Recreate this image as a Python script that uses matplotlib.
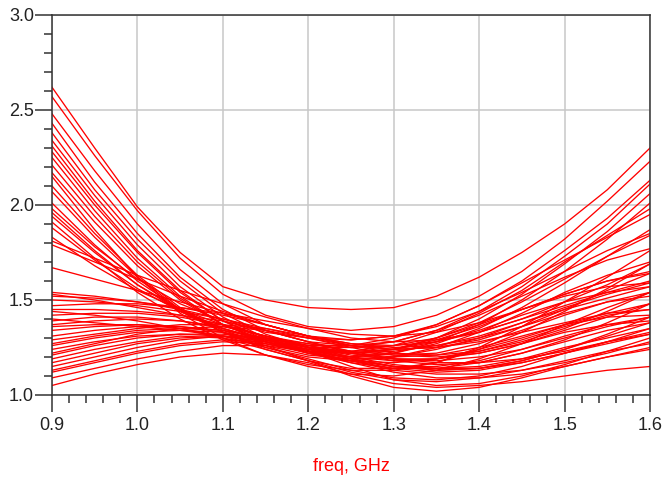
import matplotlib
matplotlib.use("Agg")
import matplotlib.pyplot as plt
from matplotlib.ticker import MultipleLocator

# frequency points (GHz)
freq = [0.9, 0.95, 1.0, 1.05, 1.1, 1.15, 1.2, 1.25, 1.3, 1.35, 1.4, 1.45, 1.5, 1.55, 1.6]

# steep curves (high at low freq, U shape)
high_curves = [
    [2.62, 2.30, 1.99, 1.75, 1.57, 1.50, 1.46, 1.45, 1.46, 1.52, 1.62, 1.75, 1.90, 2.08, 2.30],
    [2.57, 2.26, 1.97, 1.72, 1.53, 1.42, 1.36, 1.34, 1.36, 1.42, 1.52, 1.65, 1.82, 2.02, 2.23],
    [2.48, 2.18, 1.90, 1.66, 1.48, 1.37, 1.31, 1.29, 1.31, 1.37, 1.47, 1.60, 1.76, 1.93, 2.13],
    [2.43, 2.12, 1.85, 1.62, 1.45, 1.34, 1.28, 1.26, 1.28, 1.34, 1.44, 1.57, 1.73, 1.90, 2.11],
    [2.38, 2.08, 1.82, 1.60, 1.43, 1.32, 1.25, 1.22, 1.24, 1.30, 1.40, 1.53, 1.69, 1.86, 2.06],
    [2.34, 2.05, 1.79, 1.57, 1.41, 1.30, 1.23, 1.20, 1.22, 1.28, 1.37, 1.50, 1.65, 1.82, 2.01],
    [2.31, 2.02, 1.76, 1.55, 1.39, 1.29, 1.24, 1.23, 1.26, 1.33, 1.43, 1.55, 1.70, 1.84, 1.98],
    [2.28, 2.00, 1.75, 1.54, 1.39, 1.30, 1.26, 1.26, 1.30, 1.37, 1.47, 1.59, 1.71, 1.83, 1.95],
    [2.25, 1.97, 1.72, 1.52, 1.37, 1.28, 1.22, 1.20, 1.22, 1.27, 1.35, 1.46, 1.59, 1.73, 1.87],
    [2.21, 1.94, 1.70, 1.51, 1.37, 1.28, 1.23, 1.22, 1.24, 1.30, 1.38, 1.49, 1.61, 1.73, 1.84],
    [2.17, 1.91, 1.68, 1.50, 1.37, 1.29, 1.25, 1.25, 1.28, 1.34, 1.42, 1.52, 1.62, 1.71, 1.77],
    [2.15, 1.87, 1.62, 1.43, 1.30, 1.21, 1.16, 1.13, 1.13, 1.17, 1.25, 1.36, 1.49, 1.62, 1.76],
    [2.07, 1.83, 1.62, 1.45, 1.33, 1.25, 1.20, 1.18, 1.20, 1.25, 1.33, 1.43, 1.54, 1.63, 1.70],
    [2.01, 1.79, 1.60, 1.45, 1.34, 1.27, 1.23, 1.22, 1.24, 1.29, 1.36, 1.45, 1.53, 1.60, 1.64],
    [1.96, 1.76, 1.58, 1.44, 1.33, 1.26, 1.21, 1.19, 1.20, 1.24, 1.30, 1.38, 1.46, 1.53, 1.59],
    [1.94, 1.75, 1.58, 1.45, 1.35, 1.28, 1.24, 1.22, 1.23, 1.26, 1.31, 1.38, 1.45, 1.51, 1.57],
    [1.91, 1.72, 1.54, 1.40, 1.29, 1.21, 1.15, 1.11, 1.10, 1.13, 1.19, 1.27, 1.37, 1.46, 1.54],
    [1.88, 1.71, 1.56, 1.44, 1.35, 1.29, 1.25, 1.23, 1.24, 1.28, 1.34, 1.42, 1.49, 1.54, 1.57],
    [1.83, 1.68, 1.55, 1.45, 1.37, 1.31, 1.27, 1.25, 1.26, 1.30, 1.37, 1.45, 1.52, 1.57, 1.59],
    [1.98, 1.78, 1.61, 1.48, 1.39, 1.33, 1.30, 1.29, 1.31, 1.36, 1.44, 1.54, 1.65, 1.76, 1.85],
    [2.10, 1.85, 1.63, 1.46, 1.33, 1.24, 1.18, 1.14, 1.14, 1.17, 1.24, 1.33, 1.44, 1.56, 1.69],
]

# medium curves (slow decline)
mid_curves = [
    [1.81, 1.72, 1.63, 1.55, 1.48, 1.41, 1.35, 1.30, 1.28, 1.29, 1.33, 1.40, 1.49, 1.58, 1.69],
    [1.79, 1.70, 1.61, 1.52, 1.44, 1.37, 1.31, 1.26, 1.24, 1.25, 1.29, 1.36, 1.45, 1.55, 1.64],
    [1.67, 1.61, 1.55, 1.49, 1.43, 1.37, 1.31, 1.26, 1.22, 1.21, 1.23, 1.28, 1.35, 1.44, 1.54],
    [1.54, 1.52, 1.49, 1.45, 1.40, 1.34, 1.28, 1.22, 1.18, 1.16, 1.17, 1.22, 1.29, 1.38, 1.48],
    [1.53, 1.50, 1.46, 1.42, 1.37, 1.31, 1.25, 1.19, 1.15, 1.13, 1.14, 1.18, 1.24, 1.32, 1.41],
    [1.50, 1.49, 1.47, 1.44, 1.40, 1.35, 1.30, 1.26, 1.24, 1.25, 1.28, 1.33, 1.38, 1.43, 1.45],
    [1.52, 1.51, 1.49, 1.46, 1.43, 1.39, 1.35, 1.32, 1.31, 1.33, 1.38, 1.45, 1.53, 1.60, 1.65],
    [1.47, 1.48, 1.48, 1.46, 1.42, 1.37, 1.31, 1.27, 1.26, 1.28, 1.33, 1.40, 1.47, 1.54, 1.60],
    [1.44, 1.42, 1.39, 1.35, 1.30, 1.24, 1.18, 1.12, 1.08, 1.07, 1.09, 1.13, 1.18, 1.23, 1.27],
    [1.40, 1.38, 1.36, 1.34, 1.31, 1.27, 1.22, 1.18, 1.17, 1.19, 1.24, 1.30, 1.37, 1.43, 1.48],
]

# low curves (hump near 1.05 GHz, dip near 1.25 GHz)
low_curves = [
    [1.45, 1.45, 1.44, 1.42, 1.39, 1.34, 1.28, 1.23, 1.21, 1.22, 1.27, 1.34, 1.42, 1.49, 1.54],
    [1.42, 1.43, 1.43, 1.41, 1.37, 1.31, 1.25, 1.20, 1.18, 1.19, 1.23, 1.29, 1.36, 1.42, 1.45],
    [1.39, 1.41, 1.41, 1.39, 1.35, 1.29, 1.23, 1.18, 1.15, 1.15, 1.18, 1.24, 1.31, 1.37, 1.41],
    [1.37, 1.39, 1.40, 1.39, 1.36, 1.31, 1.26, 1.22, 1.20, 1.21, 1.25, 1.31, 1.37, 1.41, 1.42],
    [1.36, 1.37, 1.37, 1.35, 1.31, 1.25, 1.19, 1.13, 1.09, 1.08, 1.10, 1.15, 1.22, 1.28, 1.33],
    [1.34, 1.36, 1.37, 1.36, 1.33, 1.28, 1.22, 1.17, 1.14, 1.14, 1.17, 1.22, 1.28, 1.34, 1.38],
    [1.31, 1.34, 1.36, 1.36, 1.34, 1.30, 1.25, 1.21, 1.19, 1.19, 1.22, 1.27, 1.33, 1.37, 1.39],
    [1.29, 1.32, 1.35, 1.37, 1.37, 1.35, 1.31, 1.27, 1.25, 1.26, 1.30, 1.36, 1.43, 1.49, 1.52],
    [1.27, 1.31, 1.34, 1.35, 1.34, 1.30, 1.23, 1.15, 1.08, 1.05, 1.06, 1.10, 1.16, 1.23, 1.30],
    [1.26, 1.30, 1.33, 1.34, 1.33, 1.29, 1.24, 1.19, 1.15, 1.14, 1.15, 1.19, 1.25, 1.30, 1.35],
    [1.24, 1.28, 1.31, 1.32, 1.31, 1.28, 1.23, 1.18, 1.14, 1.12, 1.13, 1.17, 1.22, 1.27, 1.32],
    [1.22, 1.27, 1.32, 1.35, 1.36, 1.34, 1.30, 1.25, 1.21, 1.20, 1.22, 1.27, 1.34, 1.41, 1.48],
    [1.21, 1.26, 1.30, 1.32, 1.32, 1.30, 1.26, 1.22, 1.19, 1.18, 1.20, 1.24, 1.30, 1.36, 1.41],
    [1.19, 1.24, 1.28, 1.31, 1.30, 1.26, 1.18, 1.10, 1.04, 1.02, 1.04, 1.09, 1.15, 1.20, 1.24],
    [1.17, 1.22, 1.27, 1.30, 1.31, 1.29, 1.25, 1.20, 1.16, 1.14, 1.14, 1.17, 1.22, 1.28, 1.35],
    [1.15, 1.20, 1.25, 1.29, 1.31, 1.30, 1.27, 1.23, 1.19, 1.17, 1.17, 1.19, 1.23, 1.28, 1.32],
    [1.13, 1.18, 1.23, 1.27, 1.29, 1.28, 1.24, 1.19, 1.15, 1.13, 1.14, 1.18, 1.24, 1.31, 1.38],
    [1.12, 1.17, 1.22, 1.26, 1.28, 1.27, 1.23, 1.17, 1.12, 1.09, 1.09, 1.11, 1.15, 1.20, 1.25],
    [1.09, 1.14, 1.19, 1.23, 1.26, 1.26, 1.23, 1.18, 1.13, 1.11, 1.11, 1.13, 1.17, 1.22, 1.28],
    [1.05, 1.11, 1.16, 1.20, 1.22, 1.21, 1.17, 1.11, 1.06, 1.04, 1.05, 1.07, 1.10, 1.13, 1.15],
]

plt.rcParams['font.family'] = ['Liberation Sans', 'DejaVu Sans']

fig = plt.figure(figsize=(6.63, 4.79), dpi=100)
ax = fig.add_axes([0.0784, 0.1754, 0.9020, 0.7933])

for curva in high_curves + mid_curves + low_curves:
    ax.plot(freq, curva, color='#ff0000', lw=0.95, solid_joinstyle='round')

ax.set_xlim(0.9, 1.6)
ax.set_ylim(1.0, 3.0)
ax.xaxis.set_major_locator(MultipleLocator(0.1))
ax.xaxis.set_minor_locator(MultipleLocator(0.02))
ax.yaxis.set_major_locator(MultipleLocator(0.5))
ax.yaxis.set_minor_locator(MultipleLocator(0.1))
ax.xaxis.set_major_formatter(plt.FormatStrFormatter('%.1f'))
ax.yaxis.set_major_formatter(plt.FormatStrFormatter('%.1f'))

ax.grid(True, which='major', color='#c8c8c8', lw=1.1)
ax.set_axisbelow(True)

for lado in ['left', 'bottom', 'top', 'right']:
    ax.spines[lado].set_color('#333333')
    ax.spines[lado].set_linewidth(1.1)

ax.tick_params(which='major', length=12, width=1.1, color='#333333',
               labelsize=13, labelcolor='#222222', pad=1)
ax.tick_params(axis='x', which='major', pad=4)
ax.tick_params(which='minor', length=6, width=1.1, color='#333333')

ax.set_xlabel('freq, GHz', color='#ff0000', fontsize=13, labelpad=17)

fig.savefig('out.png', dpi=100)
